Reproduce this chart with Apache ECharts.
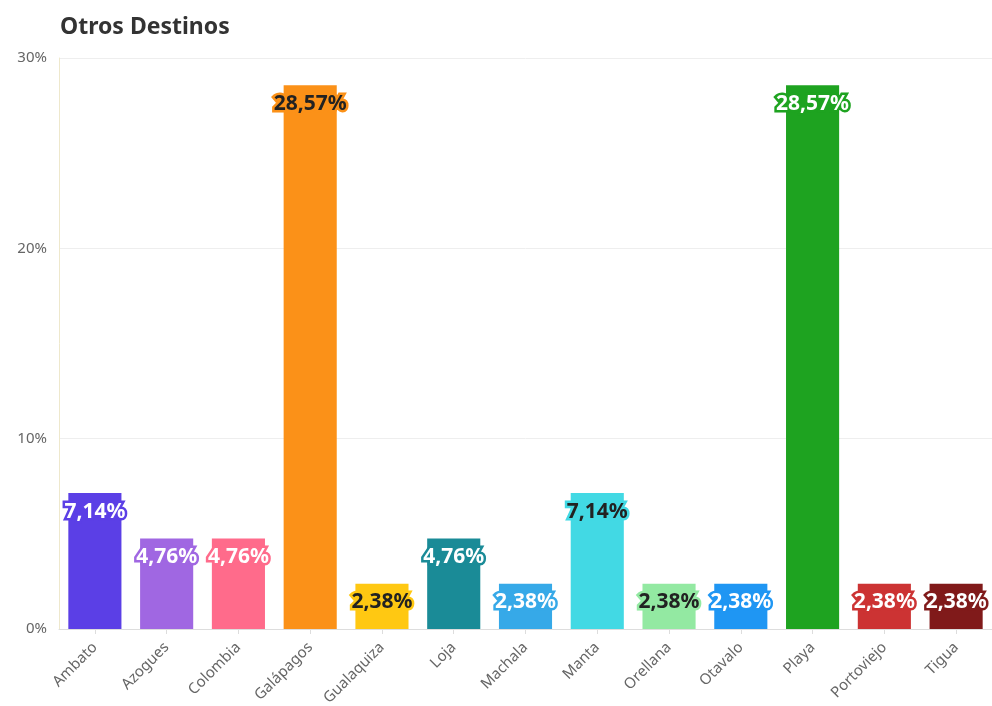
<!DOCTYPE html>
<html>
<head>
<meta charset="utf-8">
<script src="https://cdn.jsdelivr.net/npm/echarts@6/dist/echarts.min.js"></script>
<style>html,body{margin:0;padding:0;background:#fff;}#chart{width:992px;height:706px;}</style>
</head>
<body>
<div id="chart"></div>
<script>
const categories = ['Ambato','Azogues','Colombia','Galápagos','Gualaquiza','Loja','Machala','Manta','Orellana','Otavalo','Playa','Portoviejo','Tigua'];
const values = [7.14, 4.76, 4.76, 28.57, 2.38, 4.76, 2.38, 7.14, 2.38, 2.38, 28.57, 2.38, 2.38];
const barColors = ['#5B3FE6','#A067E2','#FF6B8B','#FB9118','#FFC812','#1A8B97','#36A9E8','#42D9E4','#93E9A2','#1F96F3','#1EA320','#CC3333','#801A1A'];
const labelColors = ['#fff','#fff','#fff','#222','#222','#fff','#fff','#222','#222','#fff','#fff','#fff','#fff'];
const yTicks = [0, 10, 20, 30];

const chart = echarts.init(document.getElementById('chart'));
const fontFam = '"Source Sans Pro","Noto Sans",sans-serif';
chart.setOption({
  animation: false,
  title: {
    text: 'Otros Destinos', left: 55, top: 11,
    textStyle: {fontSize: 23, fontWeight: 'bold', color: '#333', fontFamily: fontFam}
  },
  grid: {left: 59, right: 0, top: 58, bottom: 77, containLabel: false, outerBoundsMode: 'none'},
  xAxis: {
    type: 'category', data: categories,
    axisLine: {lineStyle: {color: '#ddd'}},
    axisTick: {show: true, alignWithLabel: true, lineStyle: {color: '#ddd'}},
    axisLabel: {rotate: 45, color: '#666', fontSize: 15, fontFamily: fontFam, margin: 16}
  },
  yAxis: {
    type: 'value', min: yTicks[0], max: yTicks[yTicks.length-1], interval: 10,
    axisLine: {show: true, lineStyle: {color: '#eee8cc'}},
    axisTick: {show: false},
    splitLine: {lineStyle: {color: '#eee'}},
    axisLabel: {formatter: v => v + '%', color: '#666', fontSize: 15, fontFamily: fontFam, margin: 12}
  },
  series: [{
    type: 'bar', barWidth: '74%',
    data: values.map((v, i) => ({
      value: v,
      itemStyle: {color: barColors[i]},
      label: {color: labelColors[i], textBorderColor: barColors[i]}
    })),
    label: {
      show: true, position: 'insideTop', distance: 8,
      fontSize: 21, fontWeight: 'bold', fontFamily: fontFam,
      textBorderWidth: 5,
      formatter: p => p.value.toFixed(2).replace('.', ',') + '%'
    }
  }]
});
</script>
</body>
</html>
